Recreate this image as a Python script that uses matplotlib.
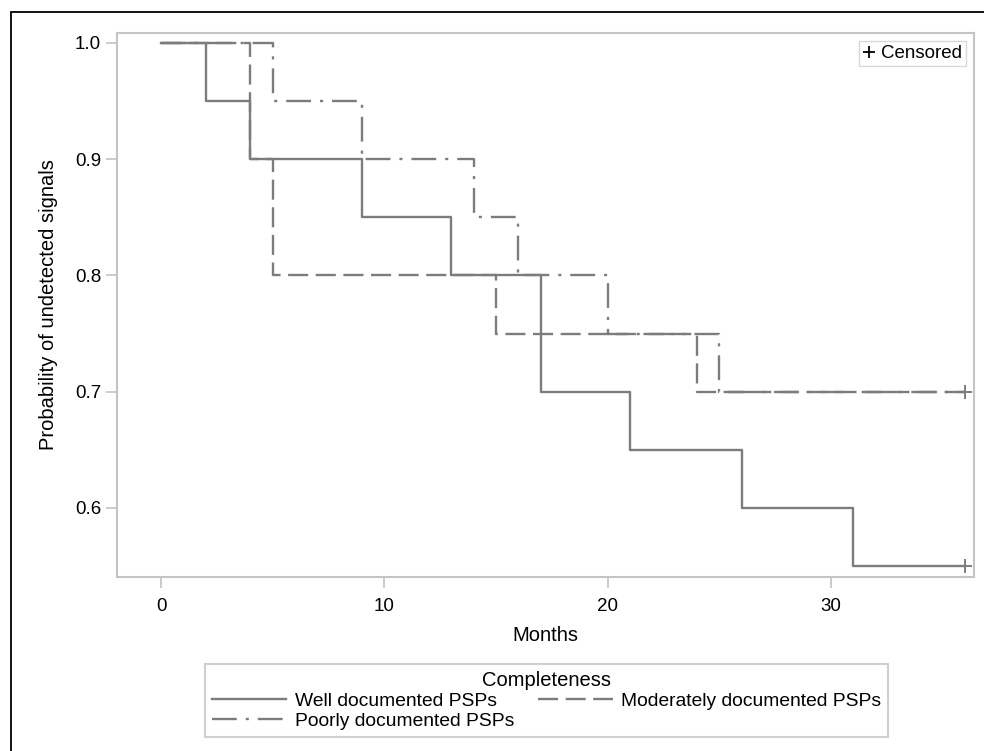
import matplotlib.pyplot as plt
from matplotlib.lines import Line2D
from matplotlib.patches import Rectangle

plt.rcParams['font.family'] = ['Liberation Sans', 'DejaVu Sans']

# Kaplan-Meier step values (time where the curve drops, survival after drop)
well_t = [0, 2, 4, 9, 13, 17, 21, 26, 31, 36]
well_s = [1.0, 0.95, 0.90, 0.85, 0.80, 0.70, 0.65, 0.60, 0.55, 0.55]

moder_t = [0, 4, 5, 15, 24, 36]
moder_s = [1.0, 0.90, 0.80, 0.75, 0.70, 0.70]

poor_t = [0, 5, 9, 14, 16, 20, 25, 36]
poor_s = [1.0, 0.95, 0.90, 0.85, 0.80, 0.75, 0.70, 0.70]

cens_t = [36, 36]
cens_s = [0.55, 0.70]

xticks = [0, 10, 20, 30]
yticks = [0.6, 0.7, 0.8, 0.9, 1.0]

grey = '#7c7c7c'
spine = '#c4c4c4'
lw = 1.7
dash_mod = (8.5, 3.2)
dash_poor = (10.5, 3.8, 1.3, 3.8)

W, H = 984, 751
fig = plt.figure(figsize=(W / 100, H / 100), dpi=100)
ax = fig.add_axes([117 / W, 1 - 577 / H, (974 - 117) / W, (577 - 33) / H])

ax.step(well_t, well_s, where='post', color=grey, lw=lw)
ax.step(moder_t, moder_s, where='post', color=grey, lw=lw, dashes=dash_mod)
ax.step(poor_t, poor_s, where='post', color=grey, lw=lw, dashes=dash_poor)
ax.plot(cens_t, cens_s, ls='none', marker='+', ms=10, mew=1.4, color=grey)

ax.set_xlim(-1.97, 36.4)
ax.set_ylim(0.5405, 1.0086)
ax.set_xticks(xticks)
ax.set_yticks(yticks)
ax.set_yticklabels([f'{v:.1f}' for v in yticks])
for s in ax.spines.values():
    s.set_color(spine)
    s.set_linewidth(1.5)
ax.tick_params(colors=spine, labelcolor='black', labelsize=13.5, length=8, width=1.2)
ax.tick_params(axis='x', pad=7)
ax.set_xlabel('Months', fontsize=14.5, labelpad=8)
ax.set_ylabel('Probability of undetected signals', fontsize=14.5, labelpad=12)

cens_h = Line2D([], [], ls='none', marker='+', ms=9, mew=1.3, color='black')
ax.legend([cens_h], ['Censored'], loc='upper right', fontsize=13.5,
          handlelength=0.6, handletextpad=0.35, borderpad=0.2,
          borderaxespad=0.45, fancybox=False, edgecolor='#d8d8d8',
          framealpha=1)

h_well = Line2D([], [], color=grey, lw=lw)
h_mod = Line2D([], [], color=grey, lw=lw, dashes=dash_mod)
h_poor = Line2D([], [], color=grey, lw=lw, dashes=dash_poor)
leg = fig.legend([h_well, h_poor, h_mod],
                 ['Well documented PSPs', 'Poorly documented PSPs',
                  'Moderately documented PSPs'],
                 title='Completeness', ncol=2, loc='upper left',
                 bbox_to_anchor=(205 / W, 1 - 664 / H), fontsize=13.9,
                 title_fontsize=14.5, handlelength=3.85, handletextpad=0.45,
                 columnspacing=1.25, labelspacing=0.14, borderpad=0.35,
                 borderaxespad=0, fancybox=False, edgecolor='#d0d0d0',
                 framealpha=1)
leg.get_frame().set_linewidth(1.5)

# outer black frame
fig.patches.append(Rectangle((11 / W, -0.1), 1.2, 1 - 12 / H + 0.1,
                             transform=fig.transFigure, fill=False,
                             edgecolor='black', lw=1.3))

fig.savefig('out.png', dpi=100)
